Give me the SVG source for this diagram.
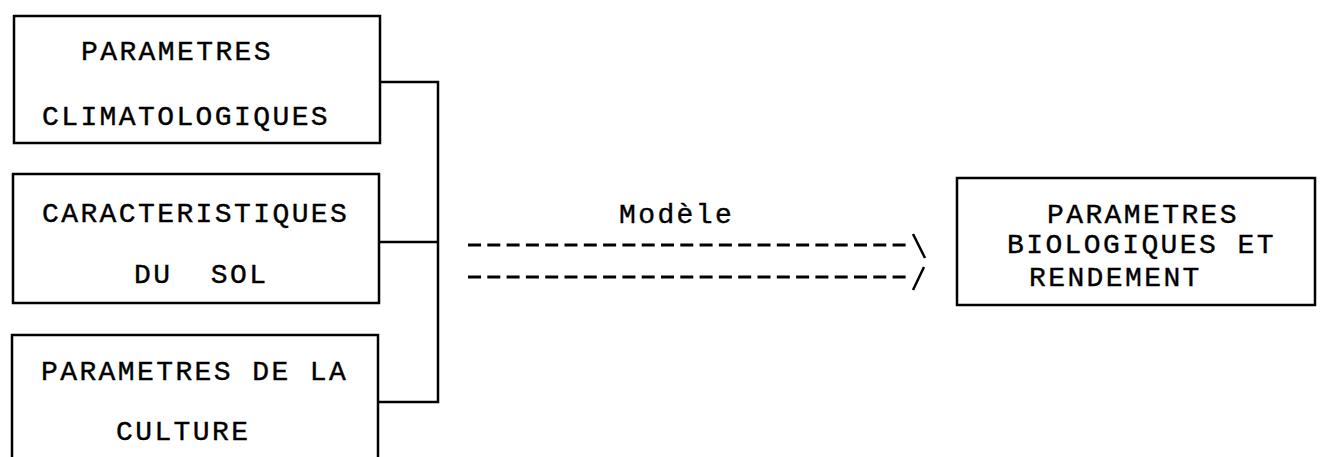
<svg xmlns="http://www.w3.org/2000/svg" width="1320" height="457" viewBox="0 0 1320 457">
<style>
.box{fill:none;stroke:#000;stroke-width:2.5}
.t{font-family:"Liberation Mono","Courier New",monospace;font-size:28px;letter-spacing:2.4px;fill:#000;stroke:#000;stroke-width:0.4;white-space:pre}
.c{fill:none;stroke:#000;stroke-width:2.5}
.d{fill:none;stroke:#000;stroke-width:2.8;stroke-dasharray:13 6.3}
</style>
<rect width="1320" height="457" fill="#fff"/>
<g id="climat">
<rect class="box" x="14" y="16" width="366" height="127"/>
<text class="t" x="81" y="60">PARAMETRES</text>
<text class="t" x="42" y="125">CLIMATOLOGIQUES</text>
</g>
<g id="sol">
<rect class="box" x="13" y="174" width="366" height="129"/>
<text class="t" x="42" y="222">CARACTERISTIQUES</text>
<text class="t" x="134" y="283" xml:space="preserve">DU  SOL</text>
</g>
<g id="culture">
<rect class="box" x="12" y="335" width="366" height="140"/>
<text class="t" x="41" y="380">PARAMETRES DE LA</text>
<text class="t" x="116" y="440">CULTURE</text>
</g>
<g id="resultat">
<rect class="box" x="957" y="178" width="358" height="127"/>
<text class="t" x="1047" y="223">PARAMETRES</text>
<text class="t" x="1007" y="253">BIOLOGIQUES ET</text>
<text class="t" x="1029" y="286">RENDEMENT</text>
</g>
<g id="connectors">
<polyline class="c" points="380,82 438,82 438,402 378,402"/>
<line class="c" x1="379" y1="242" x2="438" y2="242"/>
<line class="d" x1="468" y1="245" x2="907" y2="245"/>
<line class="d" x1="468" y1="277" x2="907" y2="277"/>
<line class="c" x1="913" y1="234" x2="925" y2="258"/>
<line class="c" x1="924" y1="267" x2="913" y2="290"/>
<text class="t" x="619" y="223">Modèle</text>
</g>
</svg>
